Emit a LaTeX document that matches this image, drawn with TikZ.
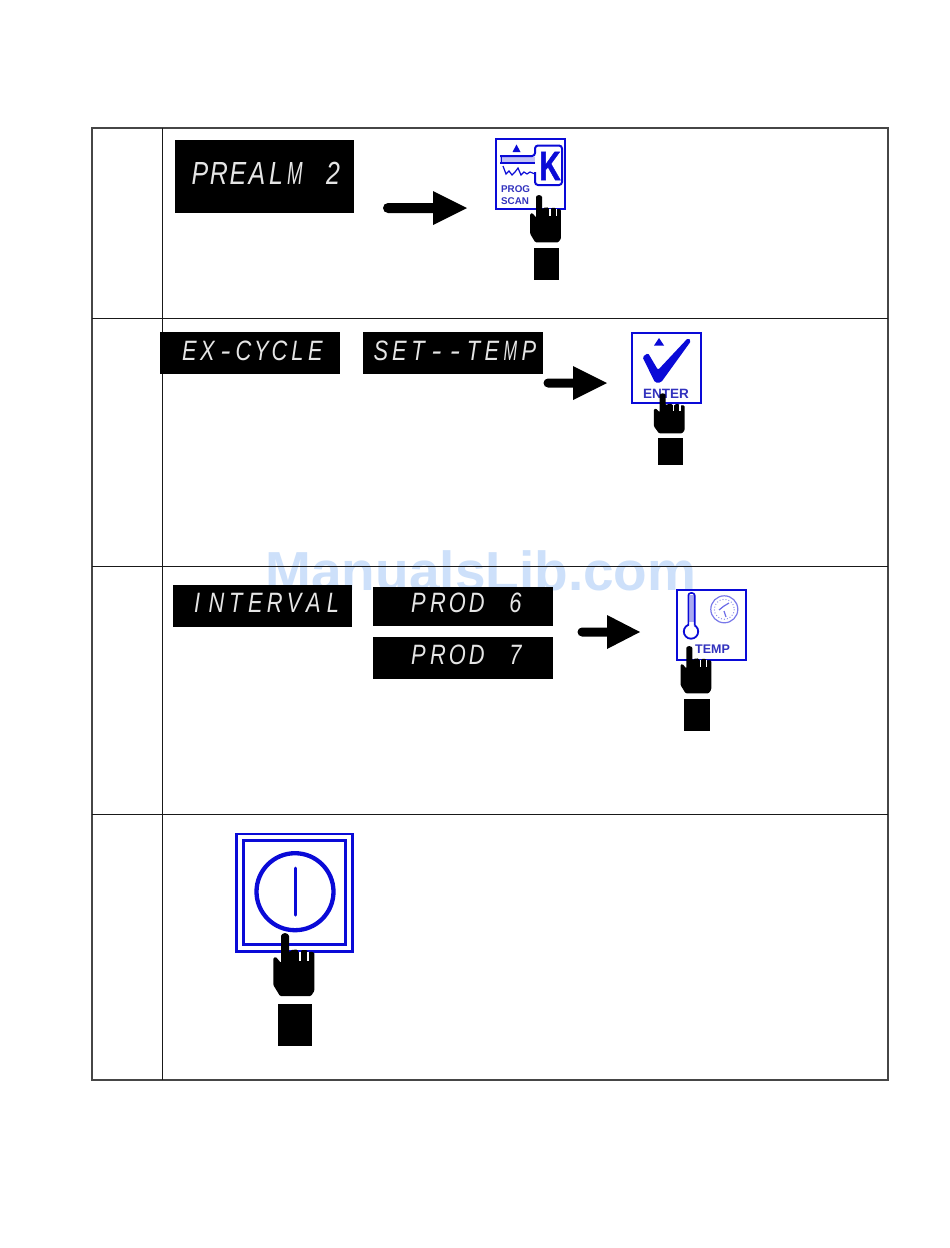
\documentclass[tikz,border=0pt]{standalone}
\usepackage{fontspec}
\setmainfont{Liberation Sans}
\newfontfamily\lcdfont{Liberation Sans}
\newfontface\kfont{Liberation Sans Bold}[FakeBold=1.5]
\definecolor{iconblue}{RGB}{10,10,215}
\definecolor{icontext}{RGB}{50,50,190}
\definecolor{wmark}{RGB}{205,224,250}
\definecolor{rulegray}{RGB}{70,70,70}
\makeatletter
\newcommand{\mM}{\scalebox{.75}[1]{M}}
\newcommand{\lh}{\scalebox{1.4}[1]{-}}
\newcommand{\lcdword}[2]{\@tfor\lcd@c:=#2\do{\makebox[#1pt][c]{\scalebox{.78}[1]{\lcd@c}}}}
\makeatother
\tikzset{
  x=1pt,y=-1pt,
  rulethin/.style={draw=black!90,line width=1pt},
  rulethick/.style={draw=rulegray,line width=1.6pt},
  lcdbox/.style={fill=black,draw=none},
  lcdtext/.style={text=black!10,inner sep=0pt,font=\lcdfont\itshape\fontsize{28}{28}\selectfont},
  iconframe/.style={draw=iconblue,line width=2pt,fill=white,minimum width=69pt,minimum height=70pt,inner sep=0pt,anchor=north west},
  iconline/.style={draw=iconblue,line width=2pt},
  icontxt/.style={text=icontext,inner sep=0pt,font=\bfseries\fontsize{9.8}{10}\selectfont},
  hand/.pic={
    \fill[black,rounded corners=1pt]
      (-4,4) arc[start angle=180,end angle=360,radius=4] -- (4,19) -- (5.5,19) -- (6,17) -- (12.5,16.5) -- (13.5,20)
      -- (15.5,20) -- (16.5,17) -- (22,17) -- (23,20) -- (24,20) -- (25,18.5) -- (29.3,19.5)
      -- (29.3,58) -- (26,63) -- (-5,63) -- (-11.7,52) -- (-11.7,25) -- (-9,24) -- (-4,30) -- cycle;
    \fill[white] (13.6,19) rectangle (15.6,28);
    \fill[white] (22.2,19) rectangle (24,28);
    \fill[black] (-6.7,70.7) rectangle (27,112.7);
  }
}
\newcommand{\blockarrow}[6]{% start x, base x, tip x, y, half head, shaft width
  \fill[black] (#2,#4-#6/2) -- (#1,#4-#6/2) arc[start angle=270,end angle=90,radius=#6/2] -- (#2,#4+#6/2) -- (#2,#4+#5) -- (#3,#4) -- (#2,#4-#5) -- cycle;
}
\begin{document}
\begin{tikzpicture}
\useasboundingbox (0,0) rectangle (950,1248);
\fill[white] (0,0) rectangle (950,1248);
% watermark
\node[text=wmark,inner sep=0pt,font=\bfseries\fontsize{55}{55}\selectfont] (wm) at (481,571) {ManualsLib.com};
% table
\draw[rulethick] (92,128) rectangle (888,1080);
\draw[rulethin] (162.5,128) -- (162.5,1080);
\draw[rulethin] (92,318.5) -- (888,318.5);
\draw[rulethin] (92,566) -- (888,566);
\draw[rulethin] (92,814) -- (888,814);
% LCD boxes
\path[lcdbox] (175,140) rectangle (354,213);
\node[lcdtext,font=\lcdfont\itshape\fontsize{32}{32}\selectfont] (t1) at (266.5,173.5) {\lcdword{19}{PREAL\mM~2}};
\path[lcdbox] (160,332) rectangle (340,374);
\node[lcdtext] (t2) at (252.5,351) {\lcdword{18}{E{X}\lh CYCLE}};
\path[lcdbox] (363,332) rectangle (543,374);
\node[lcdtext] (t3) at (455,351) {\lcdword{18.5}{SET\lh\lh TE\mM P}};
\path[lcdbox] (173,585) rectangle (352,627);
\node[lcdtext] (t4) at (265,603) {\lcdword{19.4}{INTERVAL}};
\path[lcdbox] (373,587) rectangle (553,626);
\node[lcdtext] (t5) at (467,603) {\lcdword{19.4}{PROD~6}};
\path[lcdbox] (373,637) rectangle (553,679);
\node[lcdtext] (t6) at (467,655) {\lcdword{19.4}{PROD~7}};
% arrows
\blockarrow{388}{433}{467}{208}{17}{10}
\blockarrow{548}{573}{607}{383}{17}{9}
\blockarrow{582}{607}{640}{632}{17}{9}
% key icon
\node[iconframe] (keyicon) at (495,138) {};
\fill[iconblue] (512.5,152) -- (516.5,144.5) -- (520.5,152) -- cycle;
\fill[iconblue!25] (500,157) rectangle (535,162);
\draw[iconline,rounded corners=3pt] (500,156) -- (535,156) -- (535,145.5) -- (562,145.5) -- (562,185) -- (535,185) -- (535,172);
\draw[iconline,line width=1.6pt] (500,163) -- (535,163);
\draw[iconline,line width=1pt] (501,156) -- (501,163);
\draw[iconline,line width=1.2pt] (503,166) -- (506,174) -- (509,171) -- (512,175) -- (515,172) -- (518,168) -- (521,175) -- (524,172) -- (527,174) -- (530,172) -- (535,174);
\node[text=iconblue,inner sep=0pt,font=\kfont\fontsize{41}{41}\selectfont,xscale=.72] (keyk) at (550,166) {K};
\node[icontxt,anchor=west] (prog) at (501,189) {PROG};
\node[icontxt,anchor=west] (scan) at (501,201.5) {SCAN};
\pic[xscale=.75,yscale=.75] at (539,195) {hand};
% enter icon
\node[iconframe] (entericon) at (631,332) {};
\fill[iconblue] (654,345.5) -- (659,338) -- (664,345.5) -- cycle;
\fill[iconblue,rounded corners=1.5pt] (642.5,357) -- (648,353) -- (658,370) -- (688,338) -- (691,341) -- (661,382.5) -- (655,382.5) -- cycle;
\node[icontxt,font=\bfseries\fontsize{13.5}{14}\selectfont] (entertxt) at (666,394.3) {ENTER};
\pic[xscale=.75,yscale=.635] at (662.7,393.3) {hand};
% temp icon
\node[iconframe] (tempicon) at (675.5,588.5) {};
\draw[iconline,line width=1.8pt] (691,631.5) circle[radius=7.2];
\fill[iconblue!35] (688.5,595) rectangle (694.5,626);
\fill[white] (689.3,622) rectangle (693.7,627);
\draw[iconline,line width=1.6pt,rounded corners=2.5pt] (688.3,625.5) -- (688.3,593) -- (694.7,593) -- (694.7,625.5);
\draw[iconblue!55,line width=1.2pt] (724.3,609.3) circle[radius=13.5];
\draw[iconblue!45,line width=1pt,dotted] (724.3,609.3) circle[radius=10];
\draw[iconblue!60,line width=1.2pt] (719,610) -- (724,606) -- (729,603);
\draw[iconblue!60,line width=1.2pt] (724,611) -- (726,617);
\node[icontxt,font=\bfseries\fontsize{12.5}{13}\selectfont] (temptxt) at (712.5,649.5) {TEMP};
\pic[xscale=.75,yscale=.75] at (689.3,646) {hand};
% power icon
\draw[iconblue,line width=2.7pt] (236.7,834) rectangle (352.3,951.7);
\draw[iconblue,line width=3pt] (243.3,840.7) rectangle (345.7,944.3);
\draw[iconblue,line width=4.3pt] (295,891.7) circle[radius=38.5];
\draw[iconblue,line width=3pt,line cap=round] (295,868) -- (295,915);
\pic at (285,933) {hand};
\end{tikzpicture}
\end{document}
